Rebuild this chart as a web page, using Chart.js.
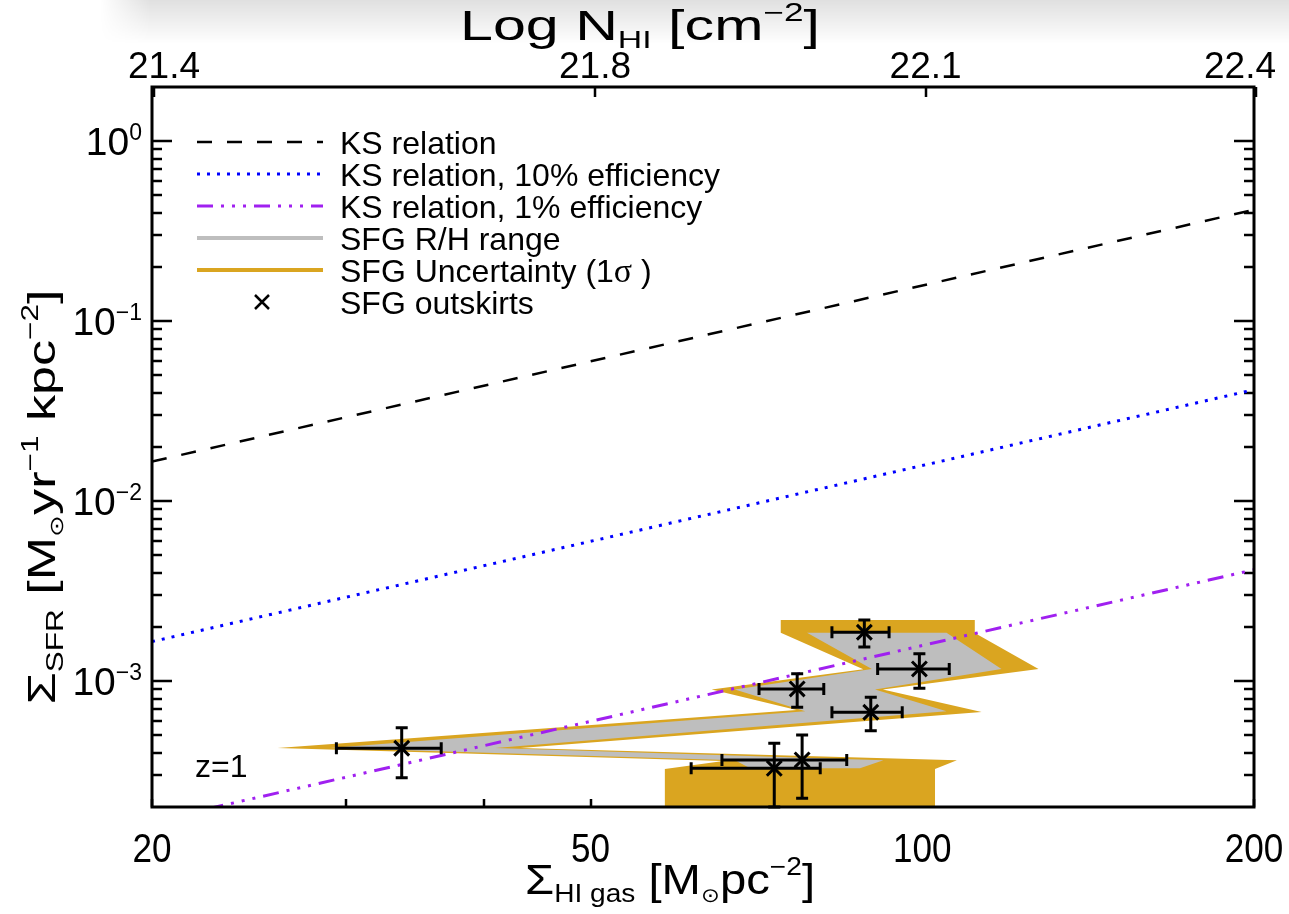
<!DOCTYPE html>
<html>

<head>
    <meta charset="utf-8">
    <title>SFR surface density vs HI gas surface density</title>
    <style>
        body {
            margin: 0;
            background: #fff;
        }

        #quadro {
            position: relative;
            width: 1289px;
            height: 914px;
        }

        /* faixa cinza suave no topo */
        #sombra {
            position: absolute;
            left: 100px;
            top: 0;
            width: 1189px;
            height: 44px;
            background: linear-gradient(to bottom, rgba(0, 0, 0, 0.12), rgba(0, 0, 0, 0));
            -webkit-mask-image: linear-gradient(to right, transparent, #000 50px);
            mask-image: linear-gradient(to right, transparent, #000 50px);
        }

        #grafico {
            position: absolute;
            left: 0;
            top: 0;
        }
    </style>
    <script src="https://cdn.jsdelivr.net/npm/chart.js"></script>
</head>

<body>
    <div id="quadro">
        <div id="sombra"></div>
        <canvas id="grafico" width="1289" height="914"></canvas>
    </div>

    <script>
        // Pontos SFG outskirts: Sigma HI gas (Msun/pc^2) e Sigma SFR (Msun/yr/kpc^2)
        var gasPontos = [88.6, 99.4, 77.0, 89.8, 73.4, 77.8, 33.7];
        var sfrPontos = [1.87e-3, 1.17e-3, 9.05e-4, 6.72e-4, 3.28e-4, 3.65e-4, 4.24e-4];
        var gasMin = [82.8, 91.1, 71.1, 82.8, 61.7, 65.8, 29.4];
        var gasMax = [93.3, 105.8, 81.4, 95.9, 80.8, 85.4, 36.6];
        var sfrMin = [1.55e-3, 9.13e-4, 7.16e-4, 5.31e-4, 2.0e-4, 2.24e-4, 2.91e-4];
        var sfrMax = [2.19e-3, 1.42e-3, 1.10e-3, 8.14e-4, 4.52e-4, 5.02e-4, 5.51e-4];

        // Relacao KS (e versoes com 10% e 1% de eficiencia), pontas da reta
        var gasLinha = [20, 200];
        var sfrKS = [0.0166, 0.416];
        var sfrKS10 = [0.00166, 0.0416];
        var sfrKS1 = [0.000166, 0.00416];

        // Contorno da faixa de incerteza (1 sigma)
        var incertezaGas = [74.4, 74.4, 88.4, 64.4, 76.9, 26.0, 66.0, 58.4, 58.4,
            102.7, 102.7, 107.5, 43.2, 113.2, 92.1, 127.5, 111.6, 111.6];
        var incertezaSfr = [2.19e-3, 1.86e-3, 1.164e-3, 9.0e-4, 6.92e-4, 4.25e-4, 3.60e-4, 3.25e-4, 1.5e-4,
            1.5e-4, 3.25e-4, 3.64e-4, 4.25e-4, 6.74e-4, 9.0e-4, 1.17e-3, 1.85e-3, 2.19e-3];

        // Contorno da faixa R/H
        var faixaRHGas = [78.6, 90.0, 67.6, 78.3, 29.0, 67.6, 69.8,
            87.8, 92.2, 41.0, 105.2, 90.6, 118.0, 105.2];
        var faixaRHSfr = [1.86e-3, 1.17e-3, 9.0e-4, 6.8e-4, 4.25e-4, 3.64e-4, 3.28e-4,
            3.28e-4, 3.64e-4, 4.25e-4, 6.8e-4, 9.0e-4, 1.17e-3, 1.86e-3];

        // Marcas e rotulos dos eixos
        var xMarcas = [20, 50, 100, 200];
        var xRotulos = ['20', '50', '100', '200'];
        var xMarcasMenores = [30, 40, 60, 70, 80, 90];
        var topoMarcas = [21.4, 21.8, 22.1, 22.4];
        var topoRotulos = ['21.4', '21.8', '22.1', '22.4'];
        var yMarcas = [1, 0.1, 0.01, 0.001];
        var yExpoentes = ['0', '\u22121', '\u22122', '\u22123'];

        var fonte = '"Liberation Sans", Arial, Helvetica, sans-serif';
        var fonteSerif = '"Liberation Serif", "DejaVu Serif", serif';

        var LARANJA = '#daa520';
        var CINZA = '#bebebe';
        var ROXO = '#a020f0';
        var AZUL = '#0000ff';

        var tracoKS = [15, 15];
        var tracoPontos = [3, 7];
        var tracoRoxo = [16, 8, 3, 8, 3, 8, 3, 8];

        function pares(xs, ys) {
            return xs.map(function (v, i) {
                return { x: v, y: ys[i] };
            });
        }

        // Escreve texto com sub/sobrescritos; cada parte = [texto, tamanho, deslocamento, familia]
        function textoRico(c, partes, x, y, alinhar, larguraAlvo) {
            var total = 0;
            partes.forEach(function (p) {
                c.font = p[1] + 'px ' + (p[3] || fonte);
                p.w = c.measureText(p[0]).width;
                total += p.w;
            });
            var sx = larguraAlvo ? larguraAlvo / total : 1;
            c.save();
            c.translate(x, y);
            c.scale(sx, 1);
            var cx = alinhar === 'center' ? -total / 2 : (alinhar === 'right' ? -total : 0);
            c.textAlign = 'left';
            c.textBaseline = 'alphabetic';
            c.fillStyle = '#000';
            partes.forEach(function (p) {
                c.font = p[1] + 'px ' + (p[3] || fonte);
                c.fillText(p[0], cx, p[2] || 0);
                cx += p.w;
            });
            c.restore();
        }

        // Marcas para dentro, moldura, rotulos, titulos e legenda
        var eixos = {
            id: 'eixos',
            beforeDatasetsDraw: function (chart) {
                var c = chart.ctx;
                var a = chart.chartArea;
                var sx = chart.scales.x;
                var sy = chart.scales.y;
                var st = chart.scales.x2;
                c.save();
                c.strokeStyle = '#000';
                c.lineWidth = 2.5;
                c.beginPath();
                // eixo y: decadas e marcas menores (esquerda e direita)
                for (var d = -4; d <= 0; d++) {
                    for (var m = 1; m <= 9; m++) {
                        var v = m * Math.pow(10, d);
                        if (v <= 2e-4 * 1.01 || v >= 2 * 0.99) continue;
                        var py = Math.round(sy.getPixelForValue(v));
                        var comp = m === 1 ? 20 : 10;
                        c.moveTo(a.left, py);
                        c.lineTo(a.left + comp, py);
                        c.moveTo(a.right, py);
                        c.lineTo(a.right - comp, py);
                    }
                }
                // eixo x de baixo: marcas curtas
                xMarcas.concat(xMarcasMenores).forEach(function (v) {
                    var px = Math.round(sx.getPixelForValue(v));
                    c.moveTo(px, a.bottom);
                    c.lineTo(px, a.bottom - 8);
                });
                // eixo de cima (log N_HI)
                topoMarcas.forEach(function (v) {
                    var px = Math.round(st.getPixelForValue(v));
                    c.moveTo(px, a.top);
                    c.lineTo(px, a.top + 10);
                });
                c.stroke();
                c.restore();
            },
            afterDraw: function (chart) {
                var c = chart.ctx;
                var a = chart.chartArea;
                var sx = chart.scales.x;
                var sy = chart.scales.y;
                var st = chart.scales.x2;

                c.save();
                c.strokeStyle = '#000';
                c.lineWidth = 3;
                c.strokeRect(a.left, a.top, a.right - a.left, a.bottom - a.top);

                // rotulos de baixo
                xMarcas.forEach(function (v, i) {
                    textoRico(c, [[xRotulos[i], 41, 0]], sx.getPixelForValue(v), 862, 'center', xRotulos[i].length * 19.5);
                });
                // rotulos de cima (os das pontas ficam um pouco para dentro)
                topoMarcas.forEach(function (v, i) {
                    var px = Math.min(Math.max(st.getPixelForValue(v), a.left + 12), a.right - 14);
                    textoRico(c, [[topoRotulos[i], 37, 0]], px, 78, 'center');
                });
                // rotulos do eixo y: 10^n
                yMarcas.forEach(function (v, i) {
                    var py = sy.getPixelForValue(v);
                    textoRico(c, [['10', 39, 0], [yExpoentes[i], 23, -15]], 142, py + 14, 'right');
                });

                // titulos
                textoRico(c, [['\u03a3', 42, 0], ['HI gas', 25, 8], [' [M', 42, 0], ['\u2299', 20, 8],
                    ['pc', 42, 0], ['\u22122', 25, -19], [']', 42, 0]], 670, 894, 'center', 290);
                textoRico(c, [['Log N', 42, 0], ['HI', 24, 8], [' [cm', 42, 0], ['\u22122', 25, -19],
                    [']', 42, 0]], 640, 40, 'center', 360);
                c.save();
                c.translate(55, 497);
                c.rotate(-Math.PI / 2);
                textoRico(c, [['\u03a3', 38, 0], ['SFR', 23, 8], [' [M', 38, 0], ['\u2299', 19, 8],
                    ['yr', 38, 0], ['\u22121', 23, -17], [' kpc', 38, 0], ['\u22122', 23, -17],
                    [']', 38, 0]], 0, 0, 'center', 415);
                c.restore();

                // legenda
                var linhas = [
                    { texto: [['KS relation', 32, 0]], cor: '#000', traco: tracoKS, larg: 2.5 },
                    { texto: [['KS relation, 10% efficiency', 32, 0]], cor: AZUL, traco: tracoPontos, larg: 3 },
                    { texto: [['KS relation, 1% efficiency', 32, 0]], cor: ROXO, traco: tracoRoxo, larg: 3 },
                    { texto: [['SFG R/H range', 32, 0]], cor: CINZA, traco: [], larg: 4 },
                    { texto: [['SFG Uncertainty (1', 32, 0], ['\u03c3', 34, 0, fonteSerif], [' )', 32, 0]], cor: LARANJA, traco: [], larg: 4 },
                    { texto: [['SFG outskirts', 32, 0]], cruz: true }
                ];
                linhas.forEach(function (l, i) {
                    var ly = 142 + i * 32;
                    if (l.cruz) {
                        c.strokeStyle = '#000';
                        c.lineWidth = 2.5;
                        c.setLineDash([]);
                        c.beginPath();
                        c.moveTo(255, ly - 7);
                        c.lineTo(269, ly + 7);
                        c.moveTo(269, ly - 7);
                        c.lineTo(255, ly + 7);
                        c.stroke();
                    } else {
                        c.strokeStyle = l.cor;
                        c.lineWidth = l.larg;
                        c.setLineDash(l.traco);
                        c.beginPath();
                        c.moveTo(197, ly);
                        c.lineTo(323, ly);
                        c.stroke();
                        c.setLineDash([]);
                    }
                    textoRico(c, l.texto, 340, ly + 11.5, 'left');
                });

                textoRico(c, [['z=1', 32, 0]], 195, 777, 'left');
                c.restore();
            }
        };

        // Barras de erro em x e y para os pontos
        var barrasErro = {
            id: 'barrasErro',
            afterDatasetsDraw: function (chart) {
                var c = chart.ctx;
                var sx = chart.scales.x;
                var sy = chart.scales.y;
                c.save();
                c.strokeStyle = '#000';
                c.lineWidth = 3;
                for (var i = 0; i < gasPontos.length; i++) {
                    var px = sx.getPixelForValue(gasPontos[i]);
                    var py = sy.getPixelForValue(sfrPontos[i]);
                    var x1 = sx.getPixelForValue(gasMin[i]);
                    var x2 = sx.getPixelForValue(gasMax[i]);
                    var y1 = sy.getPixelForValue(sfrMin[i]);
                    var y2 = sy.getPixelForValue(sfrMax[i]);
                    c.beginPath();
                    c.moveTo(x1, py);
                    c.lineTo(x2, py);
                    c.moveTo(x1, py - 6);
                    c.lineTo(x1, py + 6);
                    c.moveTo(x2, py - 6);
                    c.lineTo(x2, py + 6);
                    c.moveTo(px, y1);
                    c.lineTo(px, y2);
                    c.moveTo(px - 6, y1);
                    c.lineTo(px + 6, y1);
                    c.moveTo(px - 6, y2);
                    c.lineTo(px + 6, y2);
                    c.stroke();
                }
                c.restore();
            }
        };

        var ctx = document.getElementById('grafico').getContext('2d');

        var grafico = new Chart(ctx, {
            type: 'scatter',
            data: {
                datasets: [
                    {
                        label: 'SFG outskirts',
                        data: pares(gasPontos, sfrPontos),
                        pointStyle: 'crossRot',
                        pointRadius: 10.5,
                        borderColor: '#000',
                        backgroundColor: '#000',
                        borderWidth: 3
                    },
                    {
                        label: 'KS relation',
                        data: pares(gasLinha, sfrKS),
                        showLine: true,
                        borderColor: '#000',
                        borderWidth: 2.5,
                        borderDash: tracoKS,
                        pointRadius: 0,
                        clip: 0
                    },
                    {
                        label: 'KS relation, 10% efficiency',
                        data: pares(gasLinha, sfrKS10),
                        showLine: true,
                        borderColor: AZUL,
                        borderWidth: 3,
                        borderDash: tracoPontos,
                        pointRadius: 0,
                        clip: 0
                    },
                    {
                        label: 'KS relation, 1% efficiency',
                        data: pares(gasLinha, sfrKS1),
                        showLine: true,
                        borderColor: ROXO,
                        borderWidth: 3,
                        borderDash: tracoRoxo,
                        pointRadius: 0,
                        clip: 0
                    },
                    {
                        label: 'SFG R/H range',
                        data: pares(faixaRHGas, faixaRHSfr),
                        showLine: true,
                        fill: 'shape',
                        backgroundColor: CINZA,
                        borderColor: 'rgba(0,0,0,0)',
                        borderWidth: 0,
                        pointRadius: 0,
                        clip: 0
                    },
                    {
                        label: 'SFG Uncertainty (1\u03c3)',
                        data: pares(incertezaGas, incertezaSfr),
                        showLine: true,
                        fill: 'shape',
                        backgroundColor: LARANJA,
                        borderColor: 'rgba(0,0,0,0)',
                        borderWidth: 0,
                        pointRadius: 0,
                        clip: 0
                    }
                ]
            },
            options: {
                responsive: false,
                animation: false,
                layout: {
                    padding: { left: 152, right: 35, top: 87, bottom: 107 }
                },
                plugins: {
                    legend: { display: false },
                    tooltip: { enabled: false }
                },
                scales: {
                    x: { type: 'logarithmic', min: 20, max: 200, display: false },
                    x2: { type: 'linear', position: 'top', min: 21.398, max: 22.398, display: false },
                    y: { type: 'logarithmic', min: 2e-4, max: 2, display: false }
                }
            },
            plugins: [eixos, barrasErro]
        });
    </script>
</body>

</html>
